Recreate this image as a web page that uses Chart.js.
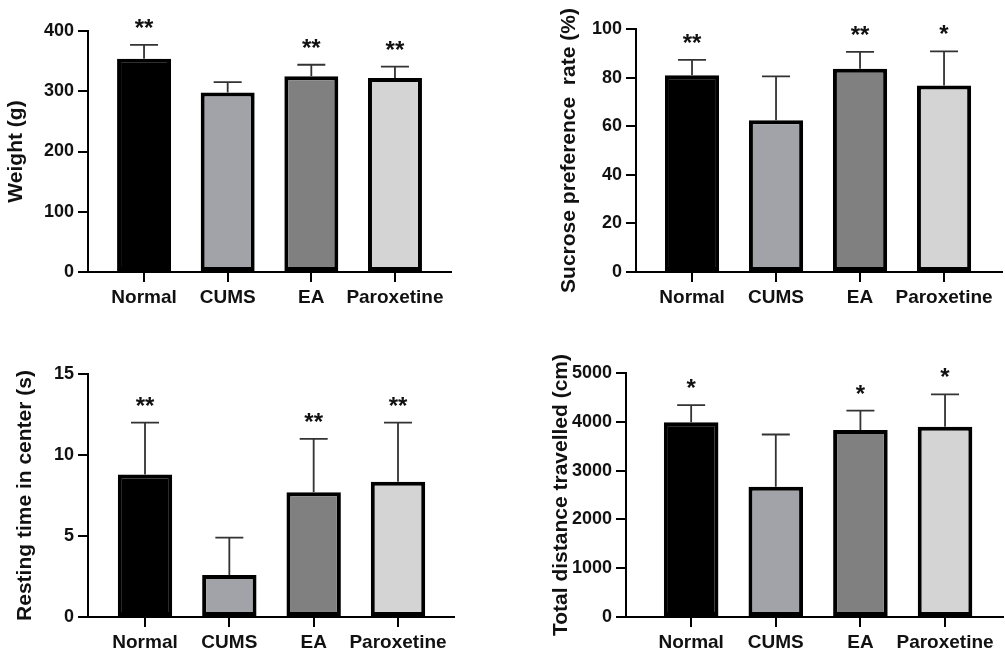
<!DOCTYPE html>
<html>
<head>
<meta charset="utf-8">
<script src="https://cdn.jsdelivr.net/npm/chart.js@4.4.1/dist/chart.umd.min.js"></script>
<style>
  body { margin: 0; background: #fff; }
  .panel { position: absolute; }
</style>
</head>
<body>
<div class="panel" style="left:0;top:0;width:500px;height:320px"><canvas id="c1"></canvas></div>
<div class="panel" style="left:500px;top:0;width:505px;height:320px"><canvas id="c2"></canvas></div>
<div class="panel" style="left:0;top:320px;width:500px;height:333px"><canvas id="c3"></canvas></div>
<div class="panel" style="left:500px;top:320px;width:505px;height:333px"><canvas id="c4"></canvas></div>
<script>
// groups and colours
const groups = ['Normal', 'CUMS', 'EA', 'Paroxetine'];
const barColors = ['#000000', '#a2a3a8', '#808080', '#d4d4d4'];

// body weight
const weightMean = [354, 298, 325, 322];
const weightSD = [23, 17, 19, 19];
const weightStars = ['**', '', '**', '**'];

// sucrose preference
const sucroseMean = [81.0, 62.5, 83.6, 76.8];
const sucroseSD = [6.3, 18.0, 7.0, 14.0];
const sucroseStars = ['**', '', '**', '*'];

// resting time in center
const restMean = [8.8, 2.6, 7.7, 8.35];
const restSD = [3.2, 2.3, 3.3, 3.65];
const restStars = ['**', '', '**', '**'];

// total distance
const distMean = [3990, 2670, 3830, 3900];
const distSD = [350, 1070, 400, 660];
const distStars = ['*', '', '*', '*'];

const FONT = '"Liberation Sans", Arial, sans-serif';

// error bar (upper only) + significance stars
const errStars = {
  id: 'errStars',
  afterDatasetsDraw(chart, args, opts) {
    const ctx = chart.ctx;
    const y = chart.scales.y;
    const meta = chart.getDatasetMeta(0);
    const mean = chart.data.datasets[0].data;
    ctx.save();
    meta.data.forEach((bar, i) => {
      const top = y.getPixelForValue(mean[i].y + opts.sd[i]);
      ctx.strokeStyle = '#333';
      ctx.lineWidth = 1.8;
      ctx.beginPath();
      ctx.moveTo(bar.x, bar.y);
      ctx.lineTo(bar.x, top);
      ctx.moveTo(bar.x - 14, top);
      ctx.lineTo(bar.x + 14, top);
      ctx.stroke();
      if (opts.stars[i]) {
        ctx.fillStyle = '#111';
        ctx.font = 'bold 24px ' + FONT;
        ctx.textAlign = 'center';
        ctx.textBaseline = 'alphabetic';
        ctx.fillText(opts.stars[i], bar.x, top - 9);
      }
    });
    ctx.restore();
  }
};

function makeChart(id, cfg) {
  new Chart(document.getElementById(id), {
    type: 'bar',
    data: {
      datasets: [{
        data: cfg.mean.map((v, i) => ({ x: i, y: v })),
        backgroundColor: barColors,
        borderColor: '#000',
        borderWidth: 4,
        borderSkipped: false,
        barPercentage: 0.645,
        categoryPercentage: 1
      }]
    },
    options: {
      responsive: true,
      maintainAspectRatio: false,
      animation: false,
      layout: { padding: cfg.pad },
      plugins: {
        legend: { display: false },
        tooltip: { enabled: false },
        errStars: { sd: cfg.sd, stars: cfg.stars }
      },
      scales: {
        x: {
          type: 'linear',
          offset: false,
          min: cfg.xmin,
          max: cfg.xmax,
          afterBuildTicks: s => { s.ticks = groups.map((g, i) => ({ value: i })); },
          afterFit: s => { s.height = 36; },
          ticks: {
            callback: v => groups[v],
            autoSkip: false,
            maxRotation: 0,
            padding: 4,
            color: '#111',
            font: { family: FONT, size: 19, weight: 'bold' }
          },
          grid: { offset: false, drawOnChartArea: false, drawTicks: true, tickLength: 10, color: '#000', lineWidth: 2 },
          border: { display: true, color: '#000', width: 2 }
        },
        y: {
          min: 0,
          max: cfg.ymax,
          afterFit: s => { s.width = cfg.yw; },
          ticks: {
            stepSize: cfg.step,
            callback: v => String(v),
            padding: 4,
            color: '#111',
            font: { family: FONT, size: 18, weight: 'bold' }
          },
          grid: { drawOnChartArea: false, drawTicks: true, tickLength: 10, color: '#000', lineWidth: 2 },
          border: { display: true, color: '#000', width: 2 },
          title: {
            display: true,
            text: cfg.title,
            color: '#111',
            padding: { top: cfg.tpad, bottom: 0 },
            font: { family: FONT, size: 21, weight: 'bold' }
          }
        }
      }
    },
    plugins: [errStars]
  });
}

makeChart('c1', {
  mean: weightMean, sd: weightSD, stars: weightStars,
  title: 'Weight (g)', ymax: 400, step: 100,
  xmin: -0.67, xmax: 3.67, yw: 88, tpad: 4,
  pad: { left: 0, top: 31, right: 49, bottom: 12 }
});
makeChart('c2', {
  mean: sucroseMean, sd: sucroseSD, stars: sucroseStars,
  title: 'Sucrose preference  rate (%)', ymax: 100, step: 20,
  xmin: -0.667, xmax: 3.69, yw: 136, tpad: 57,
  pad: { left: 0, top: 29, right: 3, bottom: 12 }
});
makeChart('c3', {
  mean: restMean, sd: restSD, stars: restStars,
  title: 'Resting time in center (s)', ymax: 15, step: 5,
  xmin: -0.676, xmax: 3.664, yw: 88, tpad: 13,
  pad: { left: 0, top: 54, right: 46, bottom: 0 }
});
makeChart('c4', {
  mean: distMean, sd: distSD, stars: distStars,
  title: 'Total distance travelled (cm)', ymax: 5000, step: 1000,
  xmin: -0.77, xmax: 3.685, yw: 126, tpad: 49,
  pad: { left: 0, top: 53, right: 2, bottom: 0 }
});
</script>
</body>
</html>
